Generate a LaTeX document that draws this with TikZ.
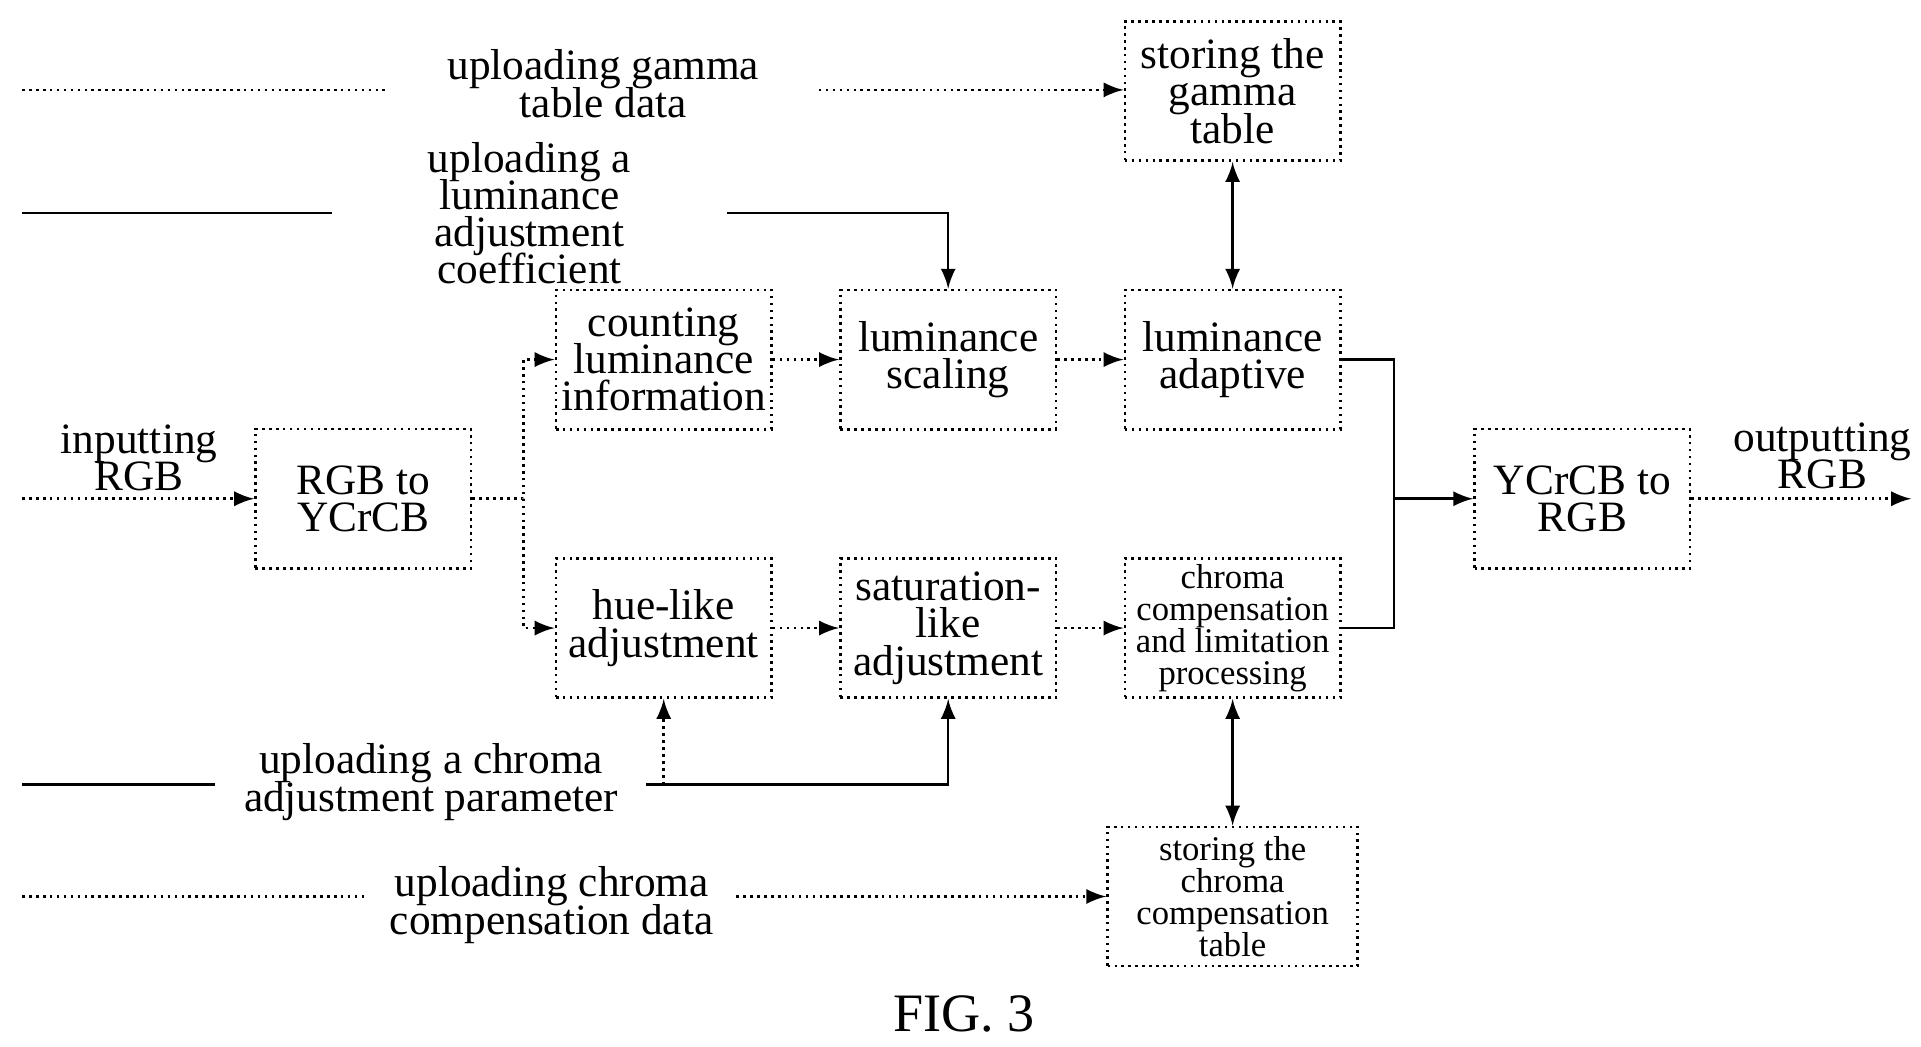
\documentclass[tikz,border=0pt]{standalone}
\usepackage{fontspec}
\setmainfont{Liberation Serif}
\usetikzlibrary{arrows, positioning}
\newcommand{\tightfont}[2]{\fontsize{#1}{#2}\selectfont\lineskiplimit=-20pt\lineskip=0pt}
\begin{document}
\begin{tikzpicture}[x=0.01cm,y=-0.01cm, semithick, >=latex,
  blk/.style={draw, densely dotted, minimum width=1.75cm, minimum height=1.13cm, inner sep=1pt, align=center, font=\tightfont{10}{8.6}},
  sblk/.style={blk, font=\tightfont{8}{7.4}},
  lbl/.style={align=center, inner sep=1pt, font=\tightfont{10}{8.6}},
  dl/.style={densely dotted}]
\useasboundingbox (0,0) rectangle (1560,850);
% blocks
\node[blk] (gamma) at (1001,74) {storing the\\gamma\\table};
\node[blk] (adapt) at (1001,292) {luminance\\adaptive};
\node[blk] (count) at (539,292) {counting\\luminance\\information};
\node[blk] (scale) at (770,292) {luminance\\scaling};
\node[blk] (conv) at (295,405) {RGB to\\YCrCB};
\node[blk] (hue) at (539,510) {hue-like\\adjustment};
\node[blk] (sat) at (770,510) {saturation-\\like\\adjustment};
\node[sblk] (comp) at (1001,510) {chroma\\compensation\\and limitation\\processing};
\node[sblk, minimum width=2.03cm] (ctab) at (1001,728) {storing the\\chroma\\compensation\\table};
\node[blk] (back) at (1285,405) {YCrCB to\\RGB};
% labels
\node[lbl] (tgam) at (490,68) {uploading gamma\\table data};
\node[lbl] (tcoef) at (430,173) {uploading a\\luminance\\adjustment\\coefficient};
\node[lbl] (tin) at (113,372) {inputting\\RGB};
\node[lbl] (tout) at (1480,370) {outputting\\RGB};
\node[lbl] (tpar) at (350,635) {uploading a chroma\\adjustment parameter};
\node[lbl] (tdat) at (448,735) {uploading chroma\\compensation data};
\node[font=\fontsize{12.5}{13}\selectfont] (fig) at (783,823) {FIG. 3};
% coordinates
\coordinate (g0) at (18,73); \coordinate (g1) at (315,73); \coordinate (g2) at (665,73);
\coordinate (c0) at (18,173); \coordinate (c1) at (270,173); \coordinate (c2) at (590,173);
\coordinate (in) at (18,405); \coordinate (out) at (1552,405);
\coordinate (split) at (425,405); \coordinate (join) at (1132,405);
\coordinate (p0) at (18,637); \coordinate (p1) at (175,637); \coordinate (p2) at (525,637);
\coordinate (d0) at (18,728); \coordinate (d1) at (297,728); \coordinate (d2) at (598,728);
% connectors
\draw[dl] (g0) -- (g1);
\draw[dl,->] (g2) -- (gamma.west |- g2);
\draw (c0) -- (c1);
\draw[->] (c2) -| (scale.north);
\draw[dl,->] (in) -- (conv.west);
\draw[densely dotted,->] (conv.east) -- (split) |- (count.west);
\draw[densely dotted,->] (split) |- (hue.west);
\draw[dl,->] (count) -- (scale);
\draw[dl,->] (scale) -- (adapt);
\draw[dl,->] (hue) -- (sat);
\draw[dl,->] (sat) -- (comp);
\draw[<->] (gamma) -- (adapt);
\draw[<->] (comp) -- (ctab);
\draw (adapt.east) -| (join) |- (comp.east);
\draw[->] (join) -- (back.west);
\draw[dl,->] (back.east) -- (out);
\draw (p0) -- (p1);
\draw[->] (p2) -| (sat.south);
\draw[dl,->] (hue.south |- p2) -- (hue.south);
\draw[dl] (d0) -- (d1);
\draw[dl,->] (d2) -- (ctab.west |- d2);
\end{tikzpicture}
\end{document}
